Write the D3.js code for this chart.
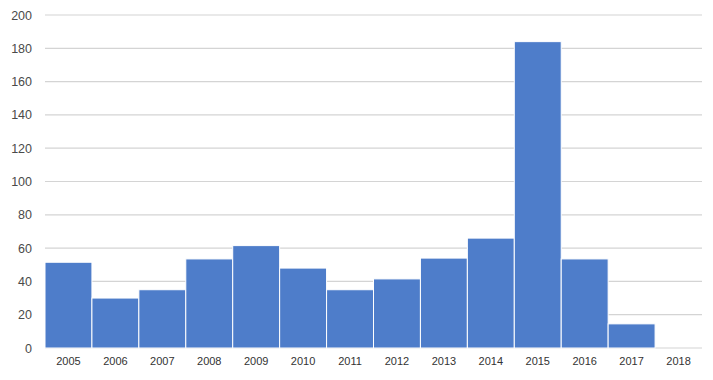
<!DOCTYPE html>
<html><head><meta charset="utf-8">
<script src="https://cdn.jsdelivr.net/npm/d3@7"></script>
<style>body{margin:0;background:#fff}svg{display:block}</style>
</head><body>
<svg id="c" width="713" height="380"></svg>
<script>
const categories = ["2005","2006","2007","2008","2009","2010","2011","2012","2013","2014","2015","2016","2017","2018"];
const values = [51.5, 30, 35, 53.5, 61.5, 48, 35, 41.5, 54, 66, 184, 53.5, 14.5, 0];
const yTicks = [0,20,40,60,80,100,120,140,160,180,200];

const svg = d3.select("#c");
const m = {l:45, r:11, t:15, b:32};
const W = 713, H = 380;
const x = d3.scaleBand().domain(categories).range([m.l, W - m.r]).padding(0);
const y = d3.scaleLinear().domain([0,200]).range([H - m.b, m.t]);

// gridlines
svg.append("g").selectAll("line").data(yTicks).join("line")
  .attr("x1", m.l).attr("x2", W - m.r)
  .attr("y1", d => y(d)).attr("y2", d => y(d))
  .attr("stroke", "#d4d4d4").attr("stroke-width", 1.2);

// bars
svg.append("g").selectAll("rect").data(values).join("rect")
  .attr("x", (d,i) => x(categories[i]))
  .attr("width", x.bandwidth())
  .attr("y", d => y(d))
  .attr("height", d => y(0) - y(d))
  .attr("fill", "#4e7dca")
  .attr("stroke", "#ffffff").attr("stroke-width", 1);

// y axis
const ya = svg.append("g").attr("transform", `translate(${m.l},0)`)
  .call(d3.axisLeft(y).tickValues(yTicks).tickSize(0).tickPadding(13));
ya.select(".domain").remove();
ya.selectAll("text").attr("font-family","Liberation Sans, Arial, sans-serif").attr("font-size",12.5).attr("fill","#4a4a4a");

// x axis
const xa = svg.append("g").attr("transform", `translate(0,${y(0)})`)
  .call(d3.axisBottom(x).tickSize(0).tickPadding(9));
xa.select(".domain").remove();
xa.selectAll("text").attr("font-family","Liberation Sans, Arial, sans-serif").attr("font-size",11).attr("fill","#333333");
</script>
</body></html>
